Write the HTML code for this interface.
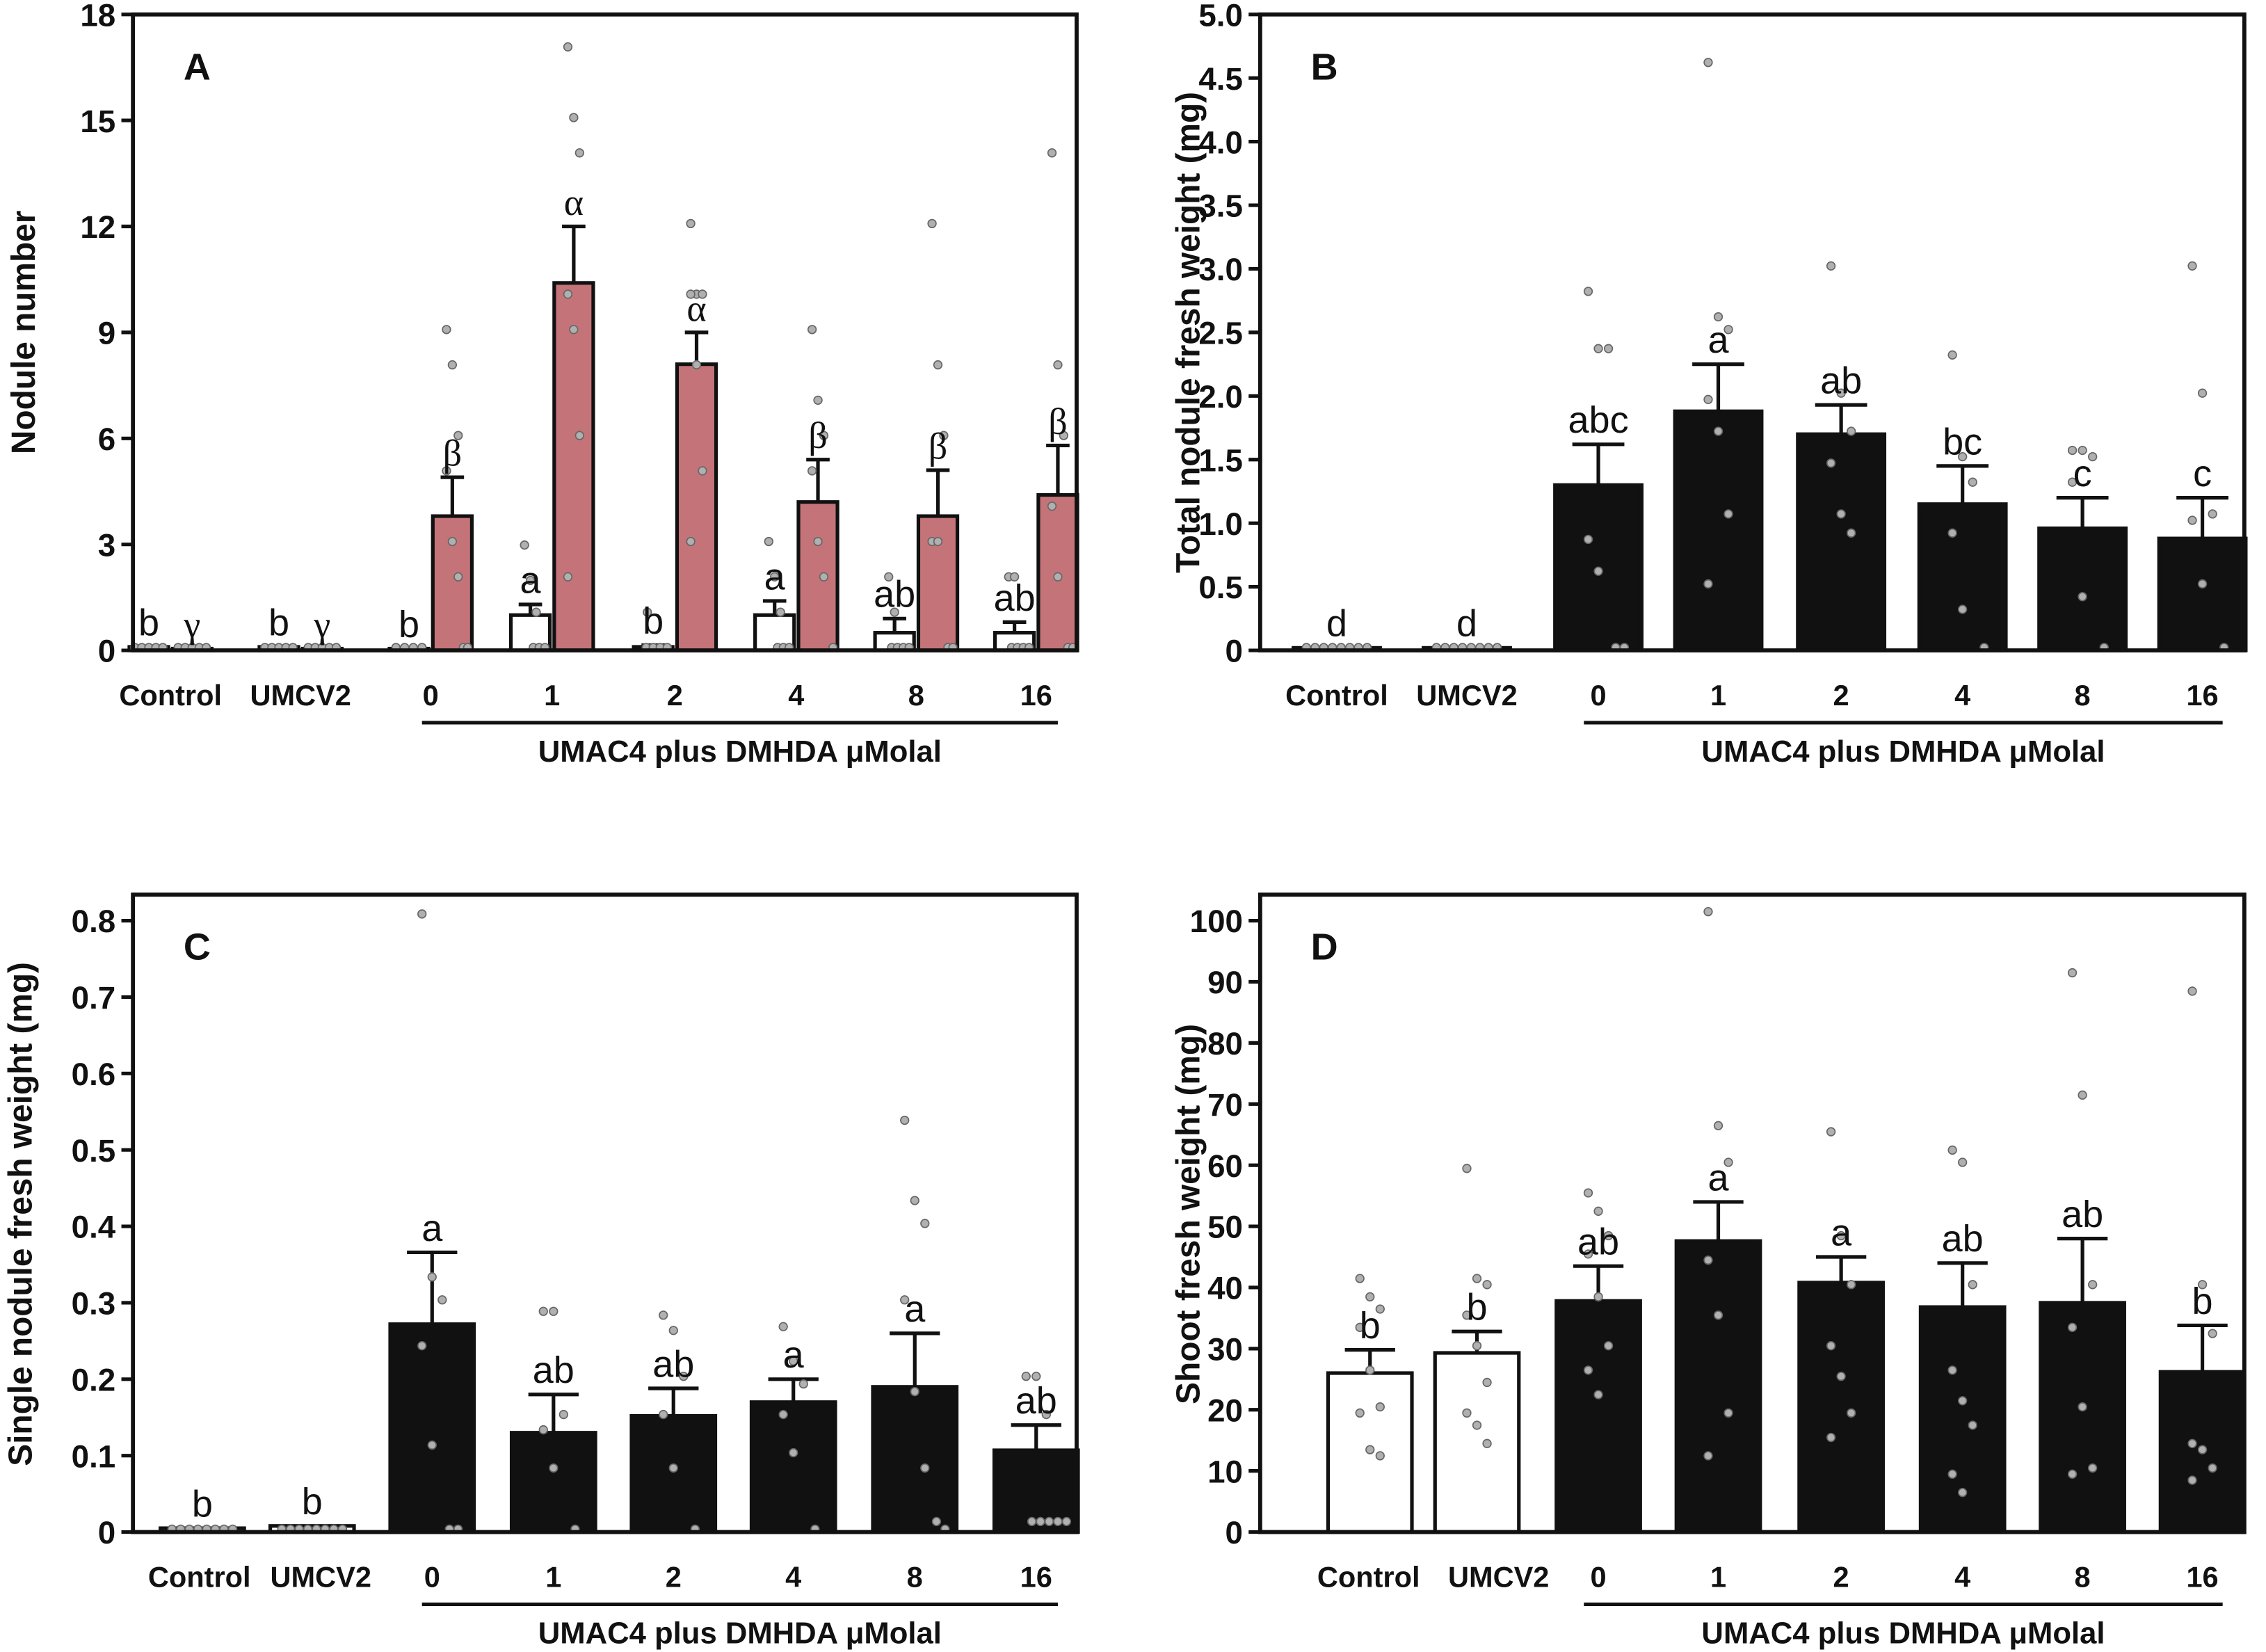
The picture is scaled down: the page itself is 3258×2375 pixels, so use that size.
<!DOCTYPE html>
<html><head><meta charset="utf-8"><style>
html,body{margin:0;padding:0;background:#fff}
svg{display:block}
text{font-family:"Liberation Sans",sans-serif}
</style></head><body>
<svg id="fig" width="3258" height="2375" viewBox="0 0 1568 1143" preserveAspectRatio="none" xmlns="http://www.w3.org/2000/svg"></svg>
<script>
const NS="http://www.w3.org/2000/svg";
const svg=document.getElementById('fig');
// ---- data ----
const cats=["Control","UMCV2","0","1","2","4","8","16"];
// Panel A
const aWhite=[0.1,0.1,0.05,1.0,0.1,1.0,0.5,0.5];
const aWhiteErr=[0.1,0.1,0.05,1.3,0.15,1.4,0.9,0.8];
const aRed=[0.05,0.05,3.8,10.4,8.1,4.2,3.8,4.4];
const aRedErr=[0.05,0.05,4.9,12.0,9.0,5.4,5.1,5.8];
const aWhiteLet=["b","b","b","a","b","a","ab","ab"];
const aRedLet=["γ","γ","β","α","α","β","β","β"];
const aWhiteDots=[[0,0,0,0,0],[0,0,0,0,0],[0,0,0,0],[2.9,1.9,1,0,0,0],[1,0,0,0,0],[3,2,1,0,0,0],[2,1,0,0,0,0],[2,2,0,0,0,0]];
const aRedDots=[[0,0,0,0,0],[0,0,0,0,0],[9,8,6,5,3,2,0,0],[17,15,14,10,9,6,2],[12,10,10,10,8,5,3],[9,7,6,5,3,2,0],[12,8,6,3,3,0,0],[14,8,6,4,2,0,0]];
// Panel B
const bVals=[0.02,0.02,1.3,1.88,1.7,1.15,0.96,0.88];
const bErr=[0.02,0.02,1.62,2.25,1.93,1.45,1.2,1.2];
const bLet=["d","d","abc","a","ab","bc","c","c"];
const bDots=[[0,0,0,0,0,0,0,0],[0,0,0,0,0,0,0,0],[2.8,2.35,2.35,0.85,0.6,0,0],[4.6,2.6,2.5,1.95,1.7,1.05,0.5],[3.0,2.0,1.7,1.45,1.05,0.9],[2.3,1.5,1.3,0.9,0.3,0],[1.55,1.55,1.5,1.3,0.4,0],[3.0,2.0,1.05,1.0,0.5,0]];
// Panel C
const cVals=[0.005,0.008,0.272,0.13,0.152,0.17,0.19,0.107];
const cErr=[0.005,0.008,0.366,0.18,0.188,0.2,0.26,0.14];
const cLet=["b","b","a","ab","ab","a","a","ab"];
const cDots=[[0,0,0,0,0,0,0,0],[0,0,0,0,0,0,0,0],[0.805,0.33,0.3,0.24,0.11,0,0],[0.285,0.285,0.15,0.13,0.08,0],[0.28,0.26,0.2,0.15,0.08,0],[0.265,0.22,0.19,0.15,0.1,0],[0.535,0.43,0.4,0.3,0.18,0.08,0.01,0],[0.2,0.2,0.15,0.01,0.01,0.01,0.01,0.01]];
// Panel D
const dVals=[26,29.3,37.8,47.6,40.8,36.8,37.5,26.2];
const dErr=[29.8,32.8,43.5,54,45,44,48,33.8];
const dLet=["b","b","ab","a","a","ab","ab","b"];
const dDots=[[41,38,36,33,26,20,19,13,12],[59,41,40,35,30,24,19,17,14],[55,52,48,45,38,30,26,22],[101,66,60,44,35,19,12],[65,48,40,30,25,19,15],[62,60,40,26,21,17,9,6],[91,71,40,33,20,10,9],[88,40,32,14,13,10,8]];

function el(tag,attrs,parent,txt){const e=document.createElementNS(NS,tag);for(const k in attrs)e.setAttribute(k,attrs[k]);if(txt!==undefined)e.textContent=txt;(parent||svg).appendChild(e);return e;}

function panel(o){
  const g=el('g',{});
  
  
  const y=v=>o.y0-(v-o.min)/(o.max-o.min)*(o.y0-o.ytop);
  o.ticks.forEach((t,i)=>{
    const ty=y(t);
    const ln=el('line',{x1:o.x0-8,x2:o.x0,y1:ty,y2:ty,stroke:'#111','stroke-width':2.5},g);
    
    const tx=el('text',{x:o.x0-12,y:ty+8,'text-anchor':'end','font-size':22,'font-weight':'bold',fill:'#111'},g,o.tickLabels[i]);
    
  });
  o.series.forEach(s=>{
    s.vals.forEach((v,i)=>{
      const cx=o.cx[i]+(s.off||0);
      const bw=s.bw;
      const r=el('rect',{x:cx-bw/2,y:y(v),width:bw,height:o.y0-y(v),fill:s.fills[i],stroke:'#111','stroke-width':2.5},g);
      
      if(s.err[i]>v){
        const e=el('path',{d:`M${cx},${y(v)}V${y(s.err[i])}M${cx-bw*0.3},${y(s.err[i])}H${cx+bw*0.3}`,stroke:'#111','stroke-width':2.5,fill:'none'},g);
        
      }
      const ds=s.dots[i];
      ds.forEach((d,j)=>{
        const n=ds.length;
        let dx;
        if(d<=s.zeroTol){dx=(j-(n-1)/2)*Math.min(6,bw/n*0.9);}
        else{dx=((j%3)-1)*Math.min(7,bw*0.15);}
        const c=el('circle',{cx:cx+dx,cy:y(d)-2,r:2.8,fill:'#b0b0b0',stroke:'#666','stroke-width':0.8},g);
        
      });
      const lt=el('text',{x:cx,y:y(s.err[i])-8,'text-anchor':'middle','font-size':26,fill:'#111'},g,s.letters[i]);
      if(s.serif)lt.setAttribute('style','font-family:"Liberation Serif","DejaVu Serif",serif');
      
    });
  });
  const f=el('rect',{x:o.x0,y:o.ytop-(o.pad||0),width:o.x1-o.x0,height:o.y0-o.ytop+(o.pad||0),fill:'none',stroke:'#111','stroke-width':2.8},g);
  
  cats.forEach((c,i)=>{
    const t=el('text',{x:o.lx[i],y:o.y0+38,'text-anchor':'middle','font-size':20,'font-weight':'bold',fill:'#111'},g,c);
    
  });
  const ul=el('line',{x1:o.ul[0],x2:o.ul[1],y1:o.y0+50,y2:o.y0+50,stroke:'#111','stroke-width':2.5},g);
  
  const ut=el('text',{x:(o.ul[0]+o.ul[1])/2,y:o.y0+77,'text-anchor':'middle','font-size':21,'font-weight':'bold',fill:'#111'},g,'UMAC4 plus DMHDA μMolal');
  
  const yt=el('text',{x:0,y:0,transform:`translate(${o.ylx},${o.yly}) rotate(-90)`,'text-anchor':'middle','font-size':23,'font-weight':'bold',fill:'#111'},g,o.ylabel);
  
  const pl=el('text',{x:o.x0+35,y:o.ytop+45-(o.pad||0),'font-size':26,'font-weight':'bold',fill:'#111'},g,o.id);
  
}
const topCx=[118,208,298,382,467,551,634,717];
const rightCx=[925,1015,1106,1189,1274,1358,1441,1524];
const leftCx=[140,216,299,383,466,549,633,717];
const leftLx=[138,222,299,383,466,549,633,717];
const dCx=[948,1022,1106,1189,1274,1358,1441,1524];
const dLx=[947,1037,1106,1189,1274,1358,1441,1524];
const W='#fff',K='#111',R='#c47479';
panel({id:'A',x0:92,x1:745,ytop:10,y0:450,min:0,max:18,ticks:[0,3,6,9,12,15,18],tickLabels:["0","3","6","9","12","15","18"],
 cx:topCx,lx:topCx,ul:[292,732],ylabel:'Nodule number',ylx:24,yly:230,
 series:[{vals:aWhite,err:aWhiteErr,dots:aWhiteDots,letters:aWhiteLet,off:-15,bw:27,zeroTol:0.01,fills:Array(8).fill(W)},
         {vals:aRed,err:aRedErr,dots:aRedDots,letters:aRedLet,off:15,bw:27,zeroTol:0.01,serif:true,fills:Array(8).fill(R)}]});
panel({id:'B',x0:872,x1:1553,ytop:10,y0:450,min:0,max:5,ticks:[0,0.5,1,1.5,2,2.5,3,3.5,4,4.5,5],tickLabels:["0","0.5","1.0","1.5","2.0","2.5","3.0","3.5","4.0","4.5","5.0"],
 cx:rightCx,lx:rightCx,ul:[1096,1538],ylabel:'Total nodule fresh weight (mg)',ylx:830,yly:230,
 series:[{vals:bVals,err:bErr,dots:bDots,letters:bLet,bw:60,zeroTol:0.01,fills:[W,W,K,K,K,K,K,K]}]});
panel({id:'C',x0:92,x1:745,ytop:637,y0:1060,pad:18,min:0,max:0.8,ticks:[0,0.1,0.2,0.3,0.4,0.5,0.6,0.7,0.8],tickLabels:["0","0.1","0.2","0.3","0.4","0.5","0.6","0.7","0.8"],
 cx:leftCx,lx:leftLx,ul:[292,732],ylabel:'Single nodule fresh weight (mg)',ylx:22,yly:840,
 series:[{vals:cVals,err:cErr,dots:cDots,letters:cLet,bw:58,zeroTol:0.012,fills:[W,W,K,K,K,K,K,K]}]});
panel({id:'D',x0:872,x1:1553,ytop:637,y0:1060,pad:18,min:0,max:100,ticks:[0,10,20,30,40,50,60,70,80,90,100],tickLabels:["0","10","20","30","40","50","60","70","80","90","100"],
 cx:dCx,lx:dLx,ul:[1096,1538],ylabel:'Shoot fresh weight (mg)',ylx:830,yly:840,
 series:[{vals:dVals,err:dErr,dots:dDots,letters:dLet,bw:58,zeroTol:-1,fills:[W,W,K,K,K,K,K,K]}]});
</script>
</body></html>
